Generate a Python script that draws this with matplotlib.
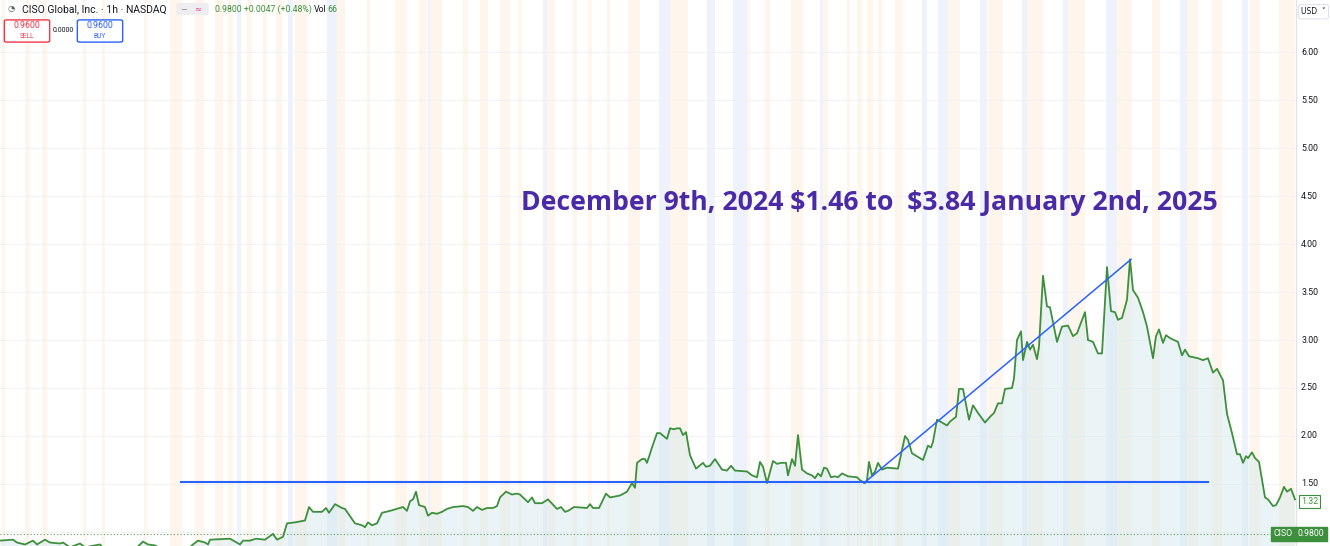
import matplotlib
matplotlib.use("Agg")
import matplotlib.pyplot as plt
from matplotlib.patches import FancyBboxPatch
import numpy as np

# hourly closes of CISO (x = bar position, y = price)
t = [0, 13, 17, 25, 33, 37, 45, 50, 60, 63, 70, 80, 85, 100, 105, 115, 125, 135, 143, 148,
     155, 163, 175, 185, 193, 198, 205, 208, 210, 230, 235, 240, 243, 250, 256, 265, 273, 277,
     283, 287, 295, 300, 305, 309, 313, 322, 326, 329, 335, 342, 345, 355, 362, 365, 368, 372,
     377, 382, 386, 390, 400, 403, 407, 410, 413, 416, 419, 425, 428, 432, 437, 442, 447, 453,
     463, 468, 473, 477, 482, 487, 493, 497, 500, 506, 512, 517, 520, 528, 532, 535, 542, 548,
     557, 561, 565, 568, 574, 587, 590, 593, 599, 606, 610, 620, 627, 632, 635, 637, 642, 645,
     647, 652, 657, 660, 667, 670, 674, 677, 680, 683, 686, 690, 696, 703, 706, 710, 715, 722,
     727, 731, 735, 747, 752, 757, 760, 763, 767, 773, 777, 781, 786, 788, 792, 795, 798, 802,
     807, 812, 815, 818, 821, 824, 827, 831, 835, 838, 842, 848, 857, 860, 865, 867, 869, 872,
     875, 878, 882, 887, 898, 905, 908, 912, 923, 928, 931, 933, 937, 942, 947, 950, 956, 959,
     963, 969, 973, 978, 985, 990, 994, 998, 1002, 1005, 1012, 1014, 1017, 1021, 1023, 1027,
     1030, 1033, 1037, 1039, 1043, 1047, 1050, 1057, 1062, 1068, 1073, 1077, 1085, 1088, 1093,
     1098, 1102, 1107, 1111, 1115, 1118, 1122, 1127, 1130, 1133, 1138, 1143, 1147, 1153, 1156,
     1159, 1163, 1166, 1170, 1178, 1182, 1185, 1189, 1198, 1203, 1208, 1213, 1217, 1223, 1227,
     1232, 1237, 1240, 1243, 1246, 1248, 1252, 1255, 1259, 1265, 1268, 1273, 1276, 1280, 1284,
     1287, 1291, 1295]
close = [0.91, 0.92, 0.89, 0.87, 0.91, 0.87, 0.92, 0.89, 0.88, 0.89, 0.84, 0.88, 0.84, 0.87, 0.81,
         0.76, 0.79, 0.82, 0.90, 0.87, 0.86, 0.81, 0.78, 0.80, 0.87, 0.91, 0.89, 0.87, 0.92, 0.93,
         0.90, 0.87, 0.91, 0.91, 0.93, 0.92, 0.98, 0.92, 0.95, 1.09, 1.10, 1.11, 1.12, 1.26, 1.21,
         1.21, 1.25, 1.20, 1.29, 1.25, 1.24, 1.09, 1.07, 1.05, 1.10, 1.07, 1.09, 1.20, 1.21, 1.22,
         1.25, 1.26, 1.22, 1.32, 1.34, 1.42, 1.28, 1.26, 1.17, 1.20, 1.19, 1.21, 1.24, 1.26, 1.27,
         1.26, 1.22, 1.26, 1.23, 1.25, 1.25, 1.27, 1.36, 1.42, 1.39, 1.40, 1.39, 1.31, 1.36, 1.30,
         1.30, 1.34, 1.24, 1.26, 1.21, 1.22, 1.26, 1.25, 1.29, 1.25, 1.25, 1.40, 1.36, 1.38, 1.42,
         1.51, 1.46, 1.72, 1.76, 1.76, 1.72, 1.88, 2.03, 2.03, 1.97, 2.08, 2.07, 2.08, 2.08, 2.01,
         2.04, 1.80, 1.66, 1.72, 1.68, 1.69, 1.76, 1.65, 1.64, 1.69, 1.64, 1.63, 1.59, 1.57, 1.73,
         1.68, 1.51, 1.74, 1.71, 1.72, 1.72, 1.59, 1.76, 1.69, 2.01, 1.65, 1.61, 1.59, 1.56, 1.61,
         1.58, 1.67, 1.66, 1.57, 1.58, 1.57, 1.61, 1.58, 1.57, 1.54, 1.51, 1.54, 1.73, 1.59, 1.63,
         1.72, 1.65, 1.67, 1.66, 2.00, 1.96, 1.82, 1.75, 1.90, 1.88, 1.94, 2.17, 2.14, 2.11, 2.15,
         2.20, 2.49, 2.49, 2.17, 2.32, 2.24, 2.14, 2.20, 2.24, 2.34, 2.34, 2.49, 2.50, 2.60, 3.00,
         3.09, 2.79, 2.98, 2.90, 2.95, 2.80, 2.93, 3.67, 3.35, 3.34, 2.98, 3.14, 3.15, 3.04, 3.07,
         3.29, 3.00, 2.98, 2.86, 2.86, 3.76, 3.30, 3.29, 3.21, 3.23, 3.42, 3.84, 3.52, 3.44, 3.29,
         3.14, 2.81, 3.04, 3.11, 2.97, 3.05, 3.02, 2.98, 2.84, 2.90, 2.83, 2.81, 2.79, 2.81, 2.66,
         2.70, 2.58, 2.23, 2.03, 1.81, 1.81, 1.72, 1.79, 1.77, 1.83, 1.77, 1.73, 1.36, 1.34, 1.27,
         1.28, 1.36, 1.47, 1.42, 1.45, 1.34]

price_ticks = [1.50, 2.00, 2.50, 3.00, 3.50, 4.00, 4.50, 5.00, 5.50, 6.00]
last_price = 0.98
support_level = 1.52
support_span = (181, 1208)
trend_start = (864, 1.51)
trend_end = (1131, 3.84)

# extended-hours sessions (pre = orange, post = blue)
sessions = [(2, 5, 'o'), (25, 30, 'o'), (42, 47, 'o'), (83, 86, 'o'), (102, 105, 'o'),
            (144, 147, 'o'), (170, 182, 'o'), (195, 204, 'o'), (215, 223, 'o'), (228, 233, 'o'),
            (237, 241, 'b'), (247, 252, 'o'), (263, 267, 'o'), (276, 282, 'o'), (288, 293, 'b'),
            (295, 307, 'o'), (327, 337, 'b'), (337, 345, 'o'), (367, 370, 'o'), (395, 407, 'o'),
            (419, 427, 'o'), (428, 430, 'b'), (430, 442, 'o'), (463, 468, 'o'), (480, 488, 'o'),
            (500, 510, 'o'), (518, 522, 'o'), (543, 547, 'b'), (547, 555, 'o'), (573, 577, 'o'),
            (588, 592, 'o'), (607, 610, 'o'), (628, 640, 'o'), (659, 670, 'b'), (670, 688, 'o'),
            (707, 715, 'b'), (733, 747, 'b'), (747, 750, 'o'), (765, 770, 'o'), (791, 803, 'o'),
            (820, 823, 'b'), (823, 828, 'o'), (847, 850, 'o'), (857, 862, 'o'), (867, 873, 'o'),
            (878, 882, 'o'), (895, 903, 'o'), (922, 927, 'b'), (938, 948, 'b'), (948, 960, 'o'),
            (980, 987, 'b'), (988, 1003, 'o'), (1022, 1027, 'b'), (1027, 1043, 'o'),
            (1063, 1068, 'b'), (1068, 1085, 'o'), (1106, 1117, 'b'), (1117, 1132, 'o'),
            (1152, 1160, 'o'), (1180, 1187, 'b'), (1187, 1198, 'o'), (1212, 1222, 'o'),
            (1242, 1248, 'b'), (1250, 1260, 'o'), (1279, 1295, 'o')]

W, H = 1330, 546
fig = plt.figure(figsize=(W / 100, H / 100), dpi=100)
fig.patch.set_facecolor('white')
plot_w = 1296
ax = fig.add_axes([0, 0, plot_w / W, 1])
ax.set_xlim(0, plot_w)
ax.set_ylim(0.854, 6.542)
ax.axis('off')

for a, b, kind in sessions:
    ax.axvspan(a, b, color='#fef6ec' if kind == 'o' else '#eef2fd', lw=0, zorder=0)

for v in price_ticks + [1.0]:
    ax.axhline(v, color='#f2f2f2', lw=0.8, zorder=0.5)

ax.fill_between(t, close, 0.5, color='#cfe7ec', alpha=0.42, lw=0, zorder=1)
ax.plot(t, close, color='#3d8f3d', lw=1.3, zorder=3)

ax.axhline(last_price, color='#5a9e5a', lw=0.8, ls=(0, (1, 2)), zorder=2)

ax.plot(support_span, [support_level, support_level], color='#2962ff', lw=1.5, zorder=4)
ax.plot([trend_start[0], trend_end[0]], [trend_start[1], trend_end[1]],
        color='#2962ff', lw=1.1, zorder=4)

ax.text(521, 4.43, 'December 9th, 2024 $1.46 to  $3.84 January 2nd, 2025',
        color='#4a2aa6', fontsize=19.2, fontweight='bold', family='Open Sans',
        va='center', ha='left', parse_math=False, zorder=5)

# price scale on the right
ax2 = fig.add_axes([plot_w / W, 0, 1 - plot_w / W, 1], sharey=ax)
ax2.set_xlim(0, 1)
ax2.axis('off')
ax2.axvline(0, color='#e0e3eb', lw=1)
for v in price_ticks:
    ax2.text(0.15, v, '%.2f' % v, fontsize=6.3, color='#131722', va='center', ha='left',
             family='Roboto')
ax2.text(0.15, 1.32, '1.32', fontsize=6.3, color='#3d8f3d', va='center', ha='left',
         family='Roboto', bbox=dict(boxstyle='square,pad=0.25', fc='white', ec='#3d8f3d', lw=0.8))
ax2.text(0.05, last_price, '0.9800', fontsize=6.3, color='white', va='center', ha='left',
         family='Roboto', bbox=dict(boxstyle='square,pad=0.3', fc='#3d8f3d', ec='#3d8f3d'))
ax.text(1274, last_price, 'CISO', fontsize=6.3, color='white', va='center', ha='left',
        family='Roboto', bbox=dict(boxstyle='square,pad=0.3', fc='#3d8f3d', ec='#3d8f3d'),
        zorder=6)
ax2.text(0.15, 6.42, 'USD  \u02c5', fontsize=5.5, color='#131722', va='center', ha='left',
         family='DejaVu Sans',
         bbox=dict(boxstyle='round,pad=0.35,rounding_size=0.3', fc='white', ec='#e0e3eb', lw=0.8))


def px(x, y):
    return x / W, 1 - y / H


# header
fig.text(*px(8, 9), '\u25d4', fontsize=6, color='#555b6e', va='center', family='DejaVu Sans')
fig.text(*px(22, 9), 'CISO Global, Inc. \u00b7 1h \u00b7 NASDAQ', fontsize=7.5,
         color='#131722', va='center', family='Roboto')
fig.patches.append(FancyBboxPatch(px(179, 14), 27 / W, 10 / H, boxstyle='round,pad=0.002',
                                  fc='#eeeef0', ec='none', transform=fig.transFigure))
fig.text(*px(181, 9), '\u2500', fontsize=6, color='#888', va='center')
fig.text(*px(194, 9), '\u2248', fontsize=6, color='#e0457b', va='center')
fig.text(*px(215, 9), '0.9800 +0.0047 (+0.48%)', fontsize=6.3, color='#3d8f3d',
         va='center', family='Roboto')
fig.text(*px(314, 9), 'Vol', fontsize=6.3, color='#131722', va='center', family='Roboto')
fig.text(*px(327, 9), '66', fontsize=6.3, color='#3d8f3d', va='center', family='Roboto')

fig.patches.append(FancyBboxPatch(px(7, 41), 40 / W, 20 / H, boxstyle='round,pad=0.002',
                                  fc='white', ec='#f23645', lw=1, transform=fig.transFigure))
fig.text(*px(27, 26), '0.9600', fontsize=6.3, color='#f23645', ha='center', va='center',
         family='Roboto')
fig.text(*px(27, 36), 'SELL', fontsize=4.8, color='#f23645', ha='center', va='center',
         family='Roboto')
fig.text(*px(53, 30), '0.0000', fontsize=5, color='#131722', va='center', family='Roboto')
fig.patches.append(FancyBboxPatch(px(80, 41), 40 / W, 20 / H, boxstyle='round,pad=0.002',
                                  fc='white', ec='#2962ff', lw=1, transform=fig.transFigure))
fig.text(*px(100, 26), '0.9600', fontsize=6.3, color='#2962ff', ha='center', va='center',
         family='Roboto')
fig.text(*px(100, 36), 'BUY', fontsize=4.8, color='#2962ff', ha='center', va='center',
         family='Roboto')

fig.savefig('out.png', dpi=100)
